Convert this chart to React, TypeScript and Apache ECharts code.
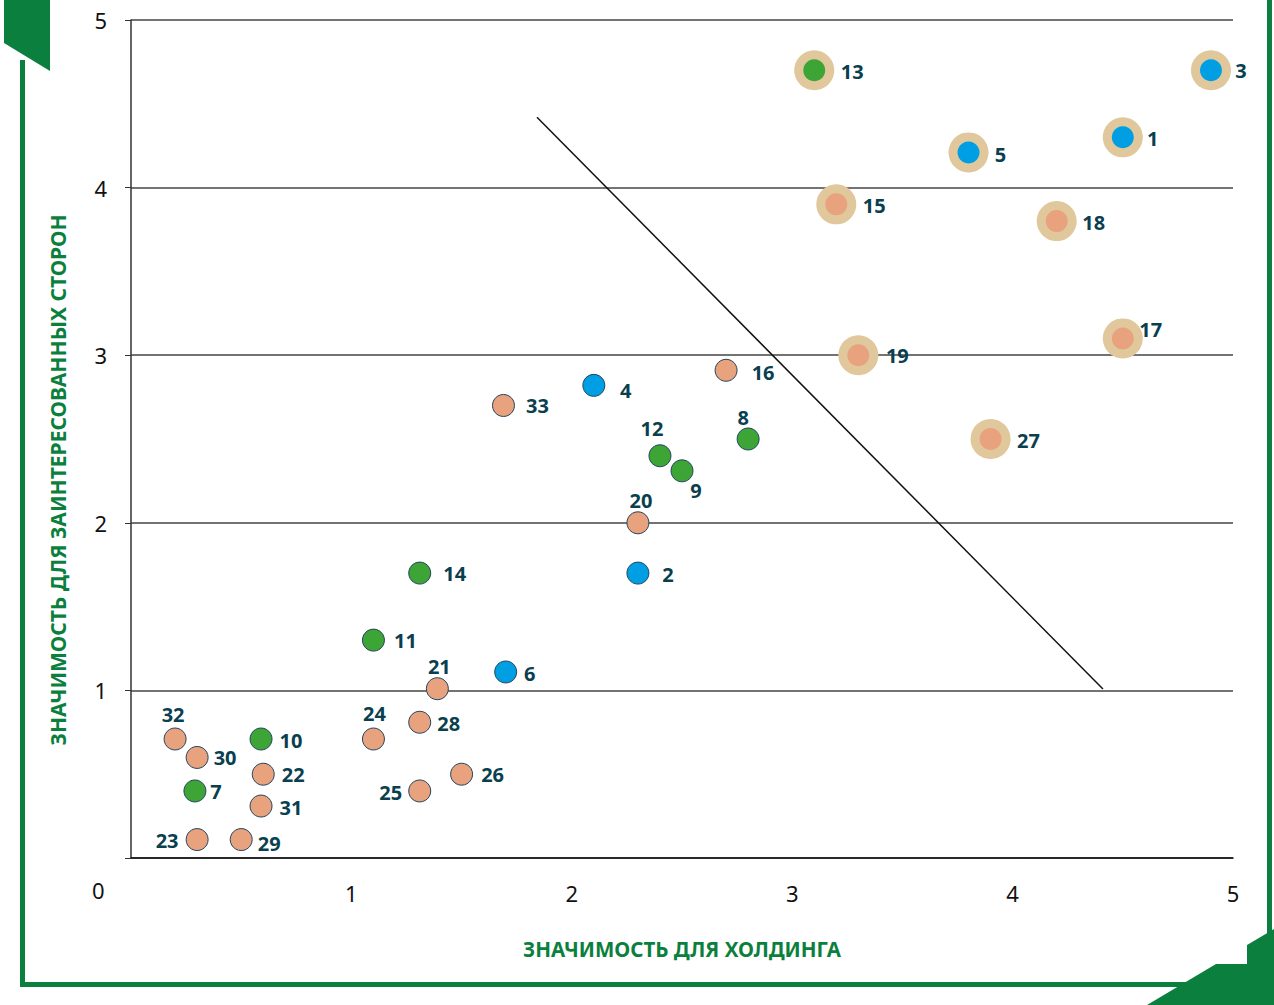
import React, { useEffect, useRef } from "react";
import * as echarts from "echarts";

// ---- data ----
const xTicks = [0, 1, 2, 3, 4, 5];
const yTicks = [0, 1, 2, 3, 4, 5];
const pointIds = [1, 2, 3, 4, 5, 6, 7, 8, 9, 10, 11, 12, 13, 14, 15, 16, 17, 18, 19, 20, 21, 22, 23, 24, 25, 26, 27, 28, 29, 30, 31, 32, 33];
const pointX = [4.5, 2.3, 4.9, 2.1, 3.8, 1.7, 0.29, 2.8, 2.5, 0.59, 1.1, 2.4, 3.1, 1.31, 3.2, 2.7, 4.5, 4.2, 3.3, 2.3, 1.39, 0.6, 0.3, 1.1, 1.31, 1.5, 3.9, 1.31, 0.5, 0.3, 0.59, 0.2, 1.69];
const pointY = [4.3, 1.7, 4.7, 2.82, 4.21, 1.11, 0.4, 2.5, 2.31, 0.71, 1.3, 2.4, 4.7, 1.7, 3.9, 2.91, 3.1, 3.8, 3.0, 2.0, 1.01, 0.5, 0.11, 0.71, 0.4, 0.5, 2.5, 0.81, 0.11, 0.6, 0.31, 0.71, 2.7];
// group: "b" = blue, "g" = green, "o" = salmon
const pointGroup = ["b", "b", "b", "b", "b", "b", "g", "g", "g", "g", "g", "g", "g", "g", "o", "o", "o", "o", "o", "o", "o", "o", "o", "o", "o", "o", "o", "o", "o", "o", "o", "o", "o"];
const highlighted = [1, 3, 5, 13, 15, 17, 18, 19, 27];
const dividerLine = [
  [1.842, 4.42],
  [4.41, 1.008],
];
const xTitle = "ЗНАЧИМОСТЬ ДЛЯ ХОЛДИНГА";
const yTitle = "ЗНАЧИМОСТЬ ДЛЯ ЗАИНТЕРЕСОВАННЫХ СТОРОН";

// ---- label placement (style only: pixel offset of label from point centre) ----
const labelOffset: Record<number, [number, number]> = {
  1: [30, 1], 2: [30, 1], 3: [30, 0], 4: [32, 5], 5: [32, 2], 6: [24, 2], 7: [21, 1],
  8: [-5, -22], 9: [14, 20], 10: [30, 1], 11: [32, 0], 12: [-8, -27], 13: [38, 1],
  14: [35, 0], 15: [38, 1], 16: [37, 2], 17: [28, -9], 18: [37, 1], 19: [39, 0],
  20: [3, -22], 21: [2, -22], 22: [30, 0], 23: [-30, 1], 24: [1, -26], 25: [-29, 2],
  26: [31, 0], 27: [38, 1], 28: [29, 1], 29: [28, 4], 30: [28, 0], 31: [30, 1],
  32: [-2, -25], 33: [34, 0],
};

const GROUP_COLORS: Record<string, string> = {
  b: "#009FE3",
  g: "#3DA535",
  o: "#E8A27D",
};
const HALO = "#E0C89C";
const FRAME = "#0B7F3E";
const LABEL = "#0A3F50";

export default function App() {
  const ref = useRef<HTMLDivElement>(null);

  useEffect(() => {
    if (!ref.current) return;
    const chart = echarts.init(ref.current, undefined, { renderer: "svg" });

    const haloData = pointIds
      .map((id, i) => ({ id, i }))
      .filter((p) => highlighted.includes(p.id))
      .map((p) => [pointX[p.i], pointY[p.i]]);

    const groupSeries = ["o", "g", "b"].map((g) => ({
      type: "scatter",
      name: g,
      symbolSize: 22,
      z: 5,
      data: pointIds
        .map((id, i) => ({ id, i }))
        .filter((p) => pointGroup[p.i] === g)
        .map((p) => {
          const isHalo = highlighted.includes(p.id);
          return {
            value: [pointX[p.i], pointY[p.i]],
            itemStyle: {
              color: GROUP_COLORS[g],
              opacity: 1,
              borderColor: isHalo ? "transparent" : "#23445E",
              borderWidth: isHalo ? 0 : 1,
            },
            label: {
              show: true,
              formatter: String(p.id),
              position: "inside",
              offset: labelOffset[p.id],
              color: LABEL,
              fontSize: 20,
              fontWeight: "bold",
              fontFamily: "Noto Sans",
            },
          };
        }),
    }));

    const option: any = {
      animation: false,
      backgroundColor: "#ffffff",
      grid: { left: 131, right: 41, top: 20, bottom: 147, containLabel: false },
      xAxis: {
        type: "value",
        min: xTicks[0],
        max: xTicks[xTicks.length - 1],
        interval: 1,
        name: xTitle,
        nameLocation: "middle",
        nameGap: 80,
        nameTextStyle: { color: FRAME, fontSize: 20.5, fontWeight: "bold", fontFamily: "Noto Sans" },
        axisLine: { show: true, lineStyle: { color: "#111", width: 1.5 } },
        axisTick: { show: false },
        splitLine: { show: false },
        axisLabel: {
          margin: 24,
          fontSize: 22,
          color: "#111",
          fontFamily: "Noto Sans",
          formatter: (v: number) => (v === 0 ? "" : String(v)),
        },
      },
      yAxis: {
        type: "value",
        min: yTicks[0],
        max: yTicks[yTicks.length - 1],
        interval: 1,
        axisLine: { show: true, lineStyle: { color: "#333", width: 1.5 } },
        axisTick: { show: true, length: 6, lineStyle: { color: "#333" } },
        splitLine: { show: true, lineStyle: { color: "#444", width: 1.5 } },
        axisLabel: {
          margin: 24,
          fontSize: 22,
          color: "#111",
          fontFamily: "Noto Sans",
          formatter: (v: number) => (v === 0 ? "" : String(v)),
        },
      },
      graphic: [
        { type: "text", left: 92, top: 879, style: { text: "0", fontSize: 22, fill: "#111", fontFamily: "Noto Sans" } },
        {
          type: "text",
          x: 58,
          y: 480,
          rotation: Math.PI / 2,
          style: {
            text: yTitle,
            fontSize: 21,
            fontWeight: "bold",
            fill: FRAME,
            fontFamily: "Noto Sans",
            textAlign: "center",
            textVerticalAlign: "middle",
          },
        },
        { type: "polygon", shape: { points: [[4, 0], [50, 0], [50, 71], [4, 43]] }, style: { fill: FRAME } },
        { type: "rect", shape: { x: 20, y: 60, width: 5, height: 927 }, style: { fill: FRAME } },
        { type: "rect", shape: { x: 20, y: 982, width: 1170, height: 5 }, style: { fill: FRAME } },
        { type: "rect", shape: { x: 1267, y: 0, width: 5, height: 940 }, style: { fill: FRAME } },
        {
          type: "polygon",
          shape: { points: [[1147, 1005], [1216, 964], [1247, 964], [1247, 945], [1274, 929], [1274, 1005]] },
          style: { fill: FRAME },
        },
      ],
      series: [
        {
          type: "line",
          data: dividerLine,
          symbol: "none",
          lineStyle: { color: "#111", width: 1.5 },
          z: 3,
          silent: true,
        },
        {
          type: "scatter",
          data: haloData,
          symbolSize: 40,
          itemStyle: { color: HALO, opacity: 1 },
          z: 4,
          silent: true,
        },
        ...groupSeries,
      ],
    };

    chart.setOption(option);
    return () => chart.dispose();
  }, []);

  return (
    <div
      ref={ref}
      style={{ position: "fixed", left: 0, top: 0, width: 1274, height: 1005, background: "#fff" }}
    />
  );
}
